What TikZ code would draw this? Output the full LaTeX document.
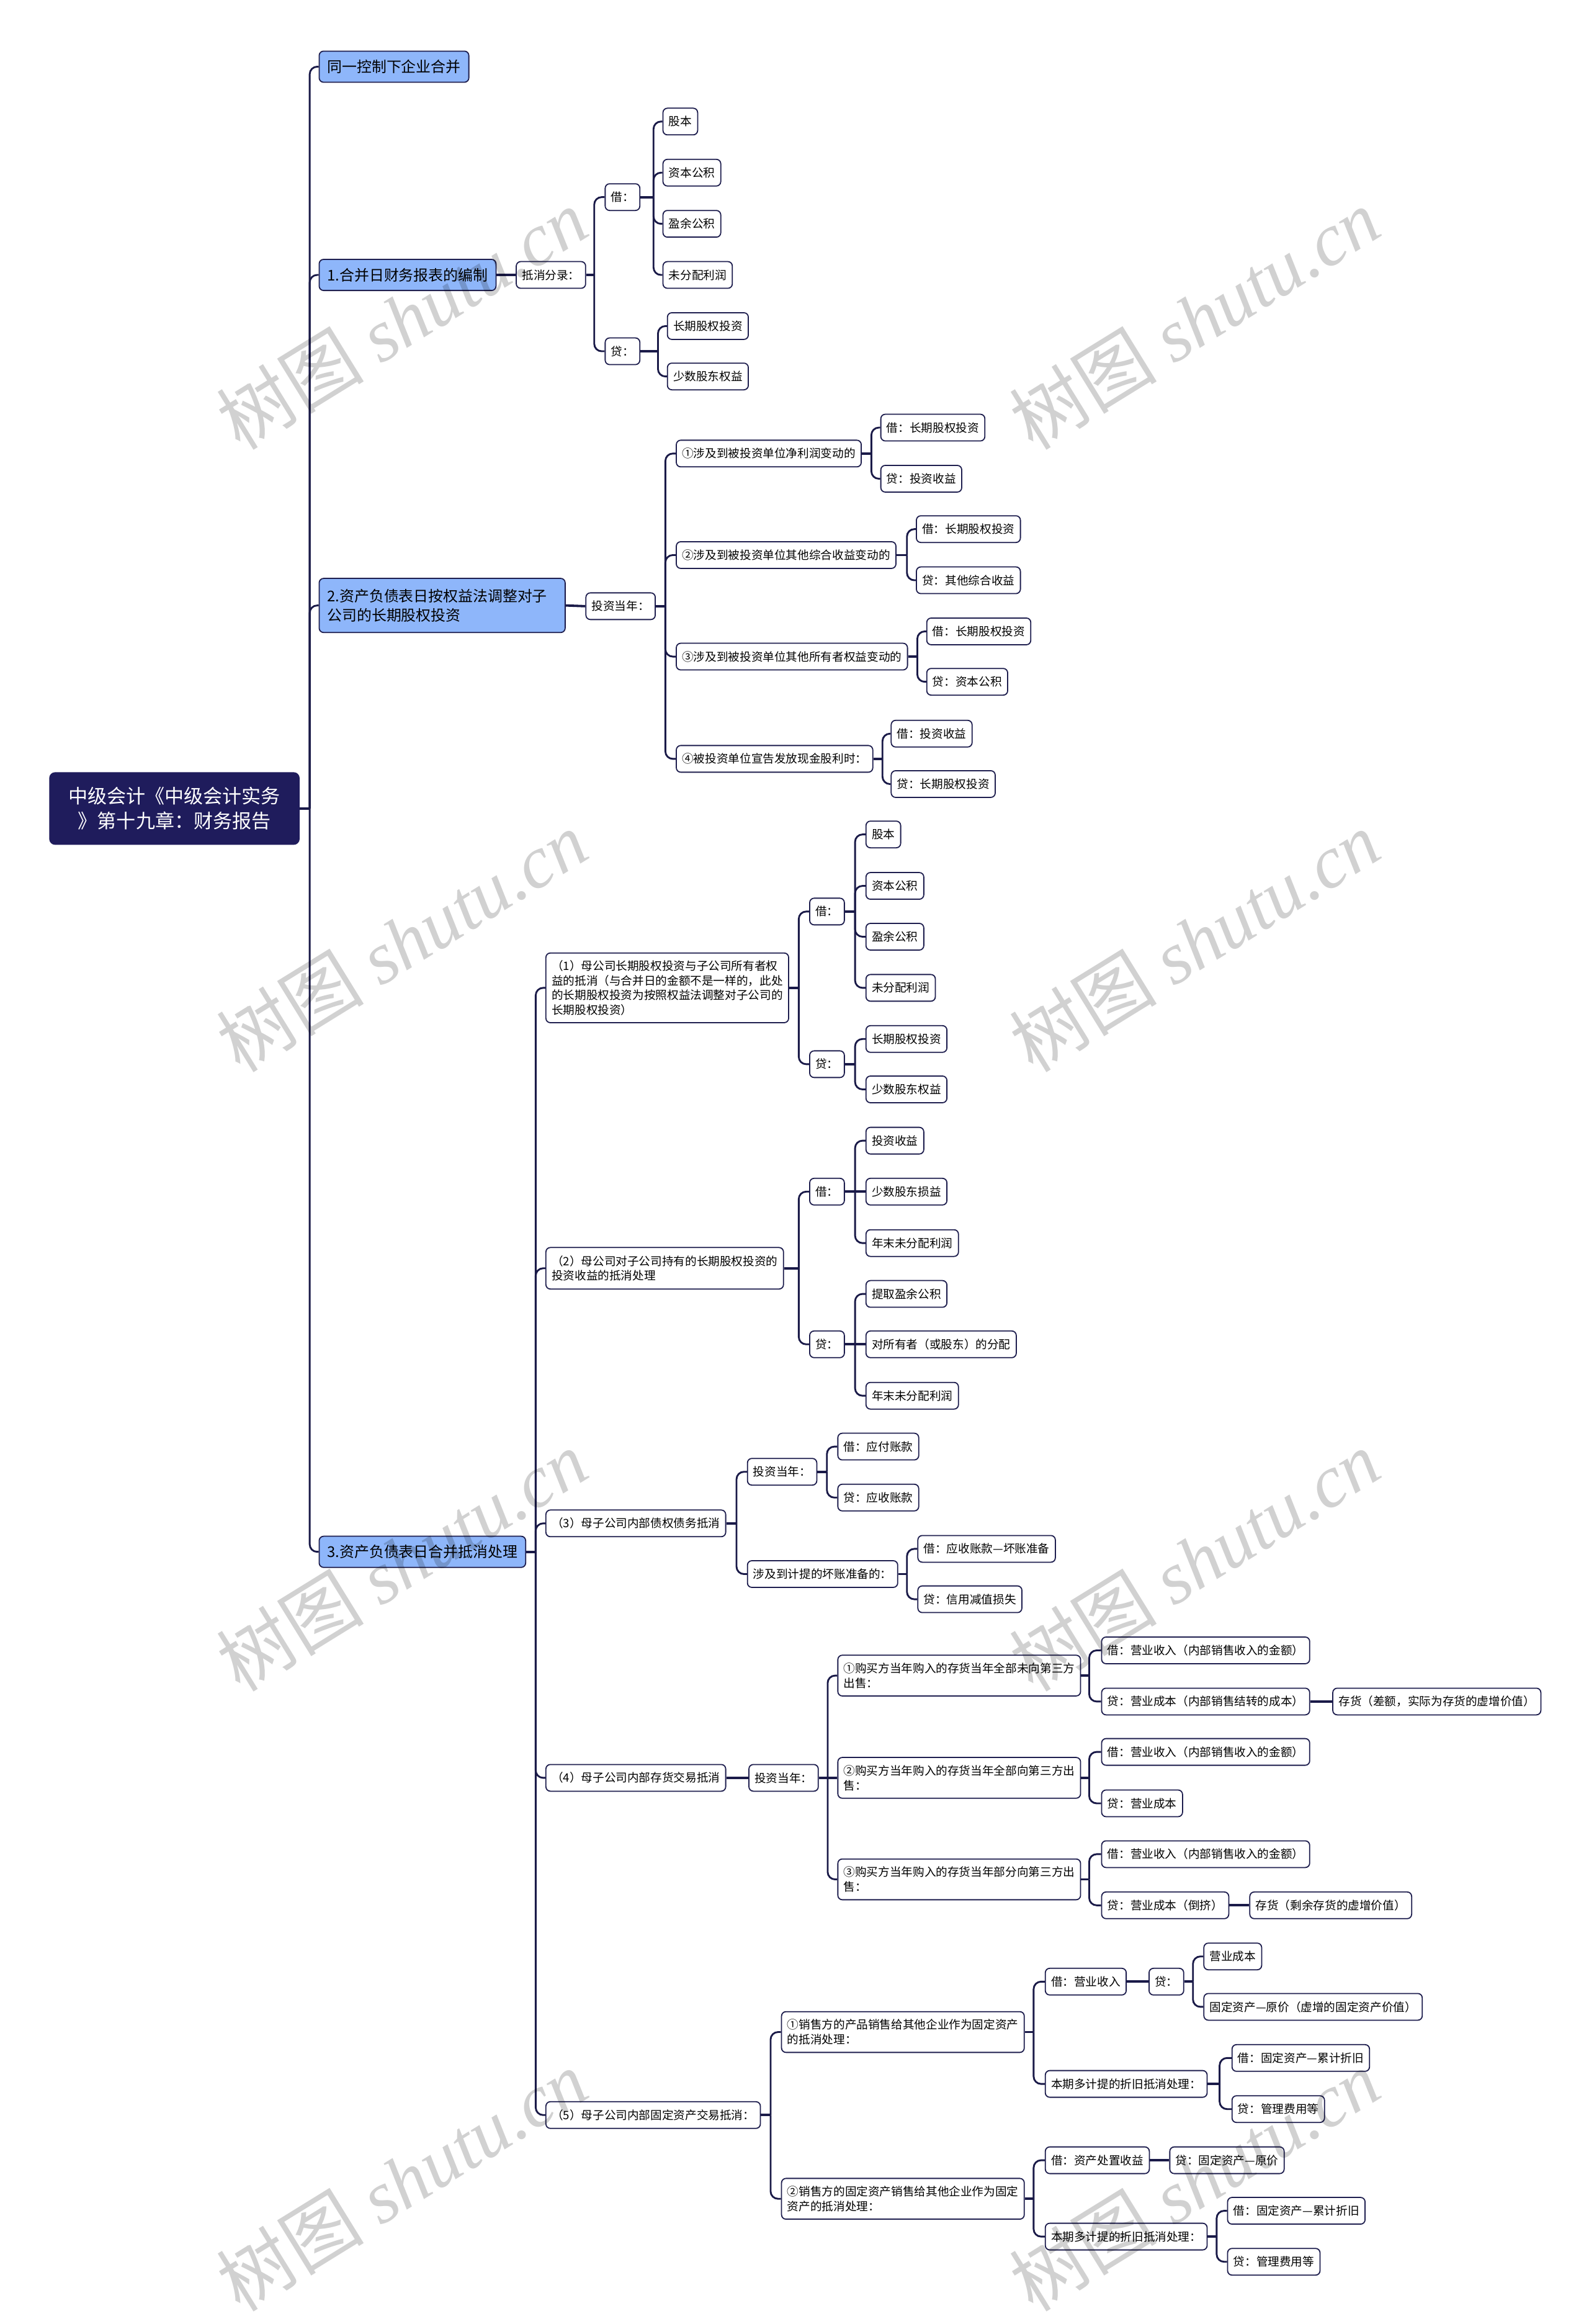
\documentclass[tikz,border=0pt]{standalone}
\usepackage{fontspec}
\setmainfont{Noto Sans CJK SC}
\newfontfamily\wmserif{Liberation Serif}
\definecolor{navy}{RGB}{30,30,78}
\definecolor{rootc}{RGB}{31,28,92}
\definecolor{lone}{RGB}{142,182,250}
\definecolor{linec}{RGB}{26,26,72}
\tikzset{
  box/.style={draw=navy, line width=0.75pt, rounded corners=3pt, anchor=west, align=left, inner ysep=2pt},
  sm/.style={box, fill=white, font=\fontsize{7.8}{10}\selectfont, inner xsep=3.9pt, minimum height=18pt},
  lv/.style={box, fill=lone, font=\fontsize{10}{13}\selectfont, inner xsep=5.5pt, minimum height=21pt},
  rootn/.style={fill=rootc, text=white, rounded corners=4pt, anchor=west, align=center, font=\fontsize{13}{17}\selectfont, inner xsep=12pt, minimum height=49pt, minimum width=169pt},
  conn/.style={draw=linec, line width=1.2pt, rounded corners=5pt},
  stub/.style={draw=linec, line width=1.6pt},
  wmk/.style={text=black, opacity=0.18, rotate=31.7, font=\fontsize{50}{50}\selectfont, inner sep=0pt}
}
\newcommand\mmstub[2]{\draw[stub] (#1.east) -- (#1.east -| #2);}
\newcommand\mmlink[3]{\draw[conn] (#1.east -| #2) |- (#3.west);}
\newcommand\mmstraight[2]{\draw[stub] (#1.east) -- (#2.west);}
\begin{document}
\begin{tikzpicture}[x=1pt,y=-1pt]
\useasboundingbox (0,0) rectangle (1072,1568);
\fill[white] (0,0) rectangle (1072,1568);
% trunk coordinates
\coordinate (t0) at (209,0);
\coordinate (t1) at (401,0);
\coordinate (t2) at (441,0);
\coordinate (t3) at (444,0);
\coordinate (t4) at (449,0);
\coordinate (t5) at (588,0);
\coordinate (t6) at (612,0);
\coordinate (t7) at (619,0);
\coordinate (t8) at (595.5,0);
\coordinate (t9) at (361.5,0);
\coordinate (t10) at (539,0);
\coordinate (t11) at (577,0);
\coordinate (t12) at (497,0);
\coordinate (t13) at (558,0);
\coordinate (t14) at (612,0);
\coordinate (t15) at (558.5,0);
\coordinate (t16) at (735,0);
\coordinate (t17) at (520,0);
\coordinate (t18) at (697.5,0);
\coordinate (t19) at (805,0);
\coordinate (t20) at (823,0);
\coordinate (t21) at (821,0);

% root and level 1
\node[rootn] (root) at (33,545.5) {中级会计《中级会计实务\\》第十九章：财务报告};
\node[lv] (a1) at (215,45) {同一控制下企业合并};
\node[lv] (a2) at (215,185.5) {1.合并日财务报表的编制};
\node[lv,minimum height=36.5pt,text width=155pt] (a3) at (215,408.5) {2.资产负债表日按权益法调整对子\\公司的长期股权投资};
\node[lv] (a4) at (215,1047) {3.资产负债表日合并抵消处理};

% section 1
\node[sm] (b1) at (348,185.5) {抵消分录：};
\node[sm] (b1j) at (408,133) {借：};
\node[sm] (b1d) at (408,237) {贷：};
\node[sm] (b1j1) at (447,82) {股本};
\node[sm] (b1j2) at (447,116.5) {资本公积};
\node[sm] (b1j3) at (447,151) {盈余公积};
\node[sm] (b1j4) at (447,185.5) {未分配利润};
\node[sm] (b1d1) at (450,220) {长期股权投资};
\node[sm] (b1d2) at (450,254) {少数股东权益};

% section 2
\node[sm] (c1) at (395,409) {投资当年：};
\node[sm] (c2) at (456,306) {①涉及到被投资单位净利润变动的};
\node[sm] (c3) at (456,374.5) {②涉及到被投资单位其他综合收益变动的};
\node[sm] (c4) at (456,443) {③涉及到被投资单位其他所有者权益变动的};
\node[sm] (c5) at (456,512) {④被投资单位宣告发放现金股利时：};
\node[sm] (c2a) at (594,288.5) {借：长期股权投资};
\node[sm] (c2b) at (594,323) {贷：投资收益};
\node[sm] (c3a) at (618,357) {借：长期股权投资};
\node[sm] (c3b) at (618,391.5) {贷：其他综合收益};
\node[sm] (c4a) at (625,426) {借：长期股权投资};
\node[sm] (c4b) at (625,460) {贷：资本公积};
\node[sm] (c5a) at (601,495) {借：投资收益};
\node[sm] (c5b) at (601,529) {贷：长期股权投资};

% section 3 (1)
\node[sm,minimum height=47pt] (d1) at (368,666.5) {（1）母公司长期股权投资与子公司所有者权\\益的抵消（与合并日的金额不是一样的，此处\\的长期股权投资为按照权益法调整对子公司的\\长期股权投资）};
\node[sm] (d1j) at (546,615) {借：};
\node[sm] (d1d) at (546,718) {贷：};
\node[sm] (d1j1) at (584,563) {股本};
\node[sm] (d1j2) at (584,597.7) {资本公积};
\node[sm] (d1j3) at (584,632) {盈余公积};
\node[sm] (d1j4) at (584,666.5) {未分配利润};
\node[sm] (d1d1) at (584,701) {长期股权投资};
\node[sm] (d1d2) at (584,735) {少数股东权益};

% (2)
\node[sm,minimum height=28pt] (d2) at (368,855.7) {（2）母公司对子公司持有的长期股权投资的\\投资收益的抵消处理};
\node[sm] (d2j) at (546,804) {借：};
\node[sm] (d2d) at (546,907) {贷：};
\node[sm] (d2j1) at (584,769.6) {投资收益};
\node[sm] (d2j2) at (584,804) {少数股东损益};
\node[sm] (d2j3) at (584,838.7) {年末未分配利润};
\node[sm] (d2d1) at (584,873) {提取盈余公积};
\node[sm] (d2d2) at (584,907) {对所有者（或股东）的分配};
\node[sm] (d2d3) at (584,941.7) {年末未分配利润};

% (3)
\node[sm] (d3) at (368,1027.8) {（3）母子公司内部债权债务抵消};
\node[sm] (d3a) at (504,993) {投资当年：};
\node[sm] (d3b) at (504,1062) {涉及到计提的坏账准备的：};
\node[sm] (d3a1) at (565,976) {借：应付账款};
\node[sm] (d3a2) at (565,1010.4) {贷：应收账款};
\node[sm] (d3b1) at (619,1045) {借：应收账款—坏账准备};
\node[sm] (d3b2) at (619,1079) {贷：信用减值损失};

% (4)
\node[sm] (d4) at (368,1199.5) {（4）母子公司内部存货交易抵消};
\node[sm] (e0) at (505,1199.5) {投资当年：};
\node[sm,minimum height=27.5pt] (e1) at (565,1130.5) {①购买方当年购入的存货当年全部未向第三方\\出售：};
\node[sm,minimum height=27.5pt] (e2) at (565,1199.5) {②购买方当年购入的存货当年全部向第三方出\\售：};
\node[sm,minimum height=27.5pt] (e3) at (565,1268) {③购买方当年购入的存货当年部分向第三方出\\售：};
\node[sm] (e1a) at (743,1113.5) {借：营业收入（内部销售收入的金额）};
\node[sm] (e1b) at (743,1148) {贷：营业成本（内部销售结转的成本）};
\node[sm] (e1c) at (899,1148) {存货（差额，实际为存货的虚增价值）};
\node[sm] (e2a) at (743,1182) {借：营业收入（内部销售收入的金额）};
\node[sm] (e2b) at (743,1216.7) {贷：营业成本};
\node[sm] (e3a) at (743,1251) {借：营业收入（内部销售收入的金额）};
\node[sm] (e3b) at (743,1285.5) {贷：营业成本（倒挤）};
\node[sm] (e3c) at (843,1285.5) {存货（剩余存货的虚增价值）};

% (5)
\node[sm] (d5) at (368,1427) {（5）母子公司内部固定资产交易抵消：};
\node[sm,minimum height=27.5pt] (f1) at (527,1371) {①销售方的产品销售给其他企业作为固定资产\\的抵消处理：};
\node[sm,minimum height=27.5pt] (f2) at (527,1483.5) {②销售方的固定资产销售给其他企业作为固定\\资产的抵消处理：};
\node[sm] (f1a) at (705,1337) {借：营业收入};
\node[sm] (f1b) at (775,1337) {贷：};
\node[sm] (f1b1) at (812,1320) {营业成本};
\node[sm] (f1b2) at (812,1354) {固定资产—原价（虚增的固定资产价值）};
\node[sm] (f1c) at (705,1406) {本期多计提的折旧抵消处理：};
\node[sm] (f1c1) at (831,1388.5) {借：固定资产—累计折旧};
\node[sm] (f1c2) at (831,1423) {贷：管理费用等};
\node[sm] (f2a) at (705,1457.5) {借：资产处置收益};
\node[sm] (f2b) at (789,1457.5) {贷：固定资产—原价};
\node[sm] (f2c) at (705,1509) {本期多计提的折旧抵消处理：};
\node[sm] (f2c1) at (828,1491.6) {借：固定资产—累计折旧};
\node[sm] (f2c2) at (828,1526) {贷：管理费用等};

% connectors
\mmstub{root}{t0}
\mmlink{root}{t0}{a1}\mmlink{root}{t0}{a2}\mmlink{root}{t0}{a3}\mmlink{root}{t0}{a4}
\mmstraight{a2}{b1}
\mmstub{b1}{t1}\mmlink{b1}{t1}{b1j}\mmlink{b1}{t1}{b1d}
\mmstub{b1j}{t2}\mmlink{b1j}{t2}{b1j1}\mmlink{b1j}{t2}{b1j2}\mmlink{b1j}{t2}{b1j3}\mmlink{b1j}{t2}{b1j4}
\mmstub{b1d}{t3}\mmlink{b1d}{t3}{b1d1}\mmlink{b1d}{t3}{b1d2}
\mmstraight{a3}{c1}
\mmstub{c1}{t4}\mmlink{c1}{t4}{c2}\mmlink{c1}{t4}{c3}\mmlink{c1}{t4}{c4}\mmlink{c1}{t4}{c5}
\mmstub{c2}{t5}\mmlink{c2}{t5}{c2a}\mmlink{c2}{t5}{c2b}
\mmstub{c3}{t6}\mmlink{c3}{t6}{c3a}\mmlink{c3}{t6}{c3b}
\mmstub{c4}{t7}\mmlink{c4}{t7}{c4a}\mmlink{c4}{t7}{c4b}
\mmstub{c5}{t8}\mmlink{c5}{t8}{c5a}\mmlink{c5}{t8}{c5b}
\mmstub{a4}{t9}\mmlink{a4}{t9}{d1}\mmlink{a4}{t9}{d2}\mmlink{a4}{t9}{d3}\mmlink{a4}{t9}{d4}\mmlink{a4}{t9}{d5}
\mmstub{d1}{t10}\mmlink{d1}{t10}{d1j}\mmlink{d1}{t10}{d1d}
\mmstub{d1j}{t11}\mmlink{d1j}{t11}{d1j1}\mmlink{d1j}{t11}{d1j2}\mmlink{d1j}{t11}{d1j3}\mmlink{d1j}{t11}{d1j4}
\mmstub{d1d}{t11}\mmlink{d1d}{t11}{d1d1}\mmlink{d1d}{t11}{d1d2}
\mmstub{d2}{t10}\mmlink{d2}{t10}{d2j}\mmlink{d2}{t10}{d2d}
\mmstub{d2j}{t11}\mmlink{d2j}{t11}{d2j1}\mmlink{d2j}{t11}{d2j3}\draw[stub] (d2j.east) -- (d2j2.west);
\mmstub{d2d}{t11}\mmlink{d2d}{t11}{d2d1}\mmlink{d2d}{t11}{d2d3}\draw[stub] (d2d.east) -- (d2d2.west);
\mmstub{d3}{t12}\mmlink{d3}{t12}{d3a}\mmlink{d3}{t12}{d3b}
\mmstub{d3a}{t13}\mmlink{d3a}{t13}{d3a1}\mmlink{d3a}{t13}{d3a2}
\mmstub{d3b}{t14}\mmlink{d3b}{t14}{d3b1}\mmlink{d3b}{t14}{d3b2}
\mmstraight{d4}{e0}
\mmstub{e0}{t15}\mmlink{e0}{t15}{e1}\mmlink{e0}{t15}{e3}\draw[stub] (e0.east) -- (e2.west);
\mmstub{e1}{t16}\mmlink{e1}{t16}{e1a}\mmlink{e1}{t16}{e1b}
\mmstub{e2}{t16}\mmlink{e2}{t16}{e2a}\mmlink{e2}{t16}{e2b}
\mmstub{e3}{t16}\mmlink{e3}{t16}{e3a}\mmlink{e3}{t16}{e3b}
\mmstraight{e1b}{e1c}
\mmstraight{e3b}{e3c}
\mmstub{d5}{t17}\mmlink{d5}{t17}{f1}\mmlink{d5}{t17}{f2}
\mmstub{f1}{t18}\mmlink{f1}{t18}{f1a}\mmlink{f1}{t18}{f1c}
\mmstraight{f1a}{f1b}
\mmstub{f1b}{t19}\mmlink{f1b}{t19}{f1b1}\mmlink{f1b}{t19}{f1b2}
\mmstub{f1c}{t20}\mmlink{f1c}{t20}{f1c1}\mmlink{f1c}{t20}{f1c2}
\mmstub{f2}{t18}\mmlink{f2}{t18}{f2a}\mmlink{f2}{t18}{f2c}
\mmstraight{f2a}{f2b}
\mmstub{f2c}{t21}\mmlink{f2c}{t21}{f2c1}\mmlink{f2c}{t21}{f2c2}

% watermarks
\foreach \wx/\wy [count=\wi] in {271/215, 806/215, 271/635, 806/635, 271/1053, 806/1053, 271/1471, 806/1471}
  \node[wmk] (wm\wi) at (\wx,\wy) {树图 {\wmserif\itshape shutu.cn}};
\end{tikzpicture}
\end{document}
